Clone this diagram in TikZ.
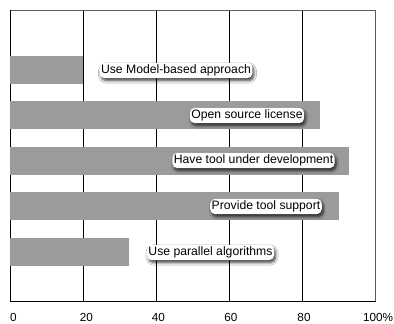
\documentclass[tikz,border=0pt]{standalone}
\usepackage{fontspec}
\setmainfont{Liberation Sans}
\usetikzlibrary{shadows.blur}
\definecolor{barfill}{RGB}{155,155,155}
\definecolor{framegray}{RGB}{90,90,90}
\begin{document}
\begin{tikzpicture}[x=1pt,y=-1pt,
  bar/.style={fill=barfill},
  grid line/.style={draw=black,line width=0.8pt},
  frame line/.style={draw=framegray,line width=0.8pt},
  tag/.style={draw=none,fill=white,rounded corners=5pt,inner xsep=1.5pt,inner ysep=2pt,
    font=\fontsize{12.2}{14}\selectfont,
    blur shadow={shadow xshift=1.5pt,shadow yshift=-2.5pt,shadow blur steps=8,shadow blur radius=2.5pt,shadow opacity=75}},
  ticklabel/.style={font=\fontsize{11.7}{13}\selectfont,inner sep=0pt}]
\useasboundingbox (0,0) rectangle (394,324);
\fill[white] (0,0) rectangle (394,324);
% vertical grid
\foreach \gx in {83,156.5,229.5,302} \draw[grid line] (\gx,10) -- (\gx,301.7);
% frame
\draw[frame line] (10,10) -- (375.5,10) -- (375.5,301.7);
\draw[grid line] (10,10) -- (10,301.7) -- (375.5,301.7);
% bars
\fill[bar] (10,56) rectangle (83,83.5);
\fill[bar] (10,100.5) rectangle (320,128.5);
\fill[bar] (10,146.5) rectangle (349,175);
\fill[bar] (10,192) rectangle (339,220);
\fill[bar] (10,237.7) rectangle (128.5,266);
% labels
\node[tag] (l1) at (176,70.5) {Use Model-based approach};
\node[tag] (l2) at (247,115.5) {Open source license};
\node[tag] (l3) at (253.5,160.5) {Have tool under development};
\node[tag] (l4) at (266,206.5) {Provide tool support};
\node[tag] (l5) at (210.5,252.5) {Use parallel algorithms};
% axis ticks
\node[ticklabel] (t0) at (13.5,317) {0};
\node[ticklabel] (t20) at (86.5,317) {20};
\node[ticklabel] (t40) at (158.5,317) {40};
\node[ticklabel] (t60) at (231,317) {60};
\node[ticklabel] (t80) at (304,317) {80};
\node[ticklabel] (t100) at (378,317) {100\%};
\end{tikzpicture}
\end{document}
